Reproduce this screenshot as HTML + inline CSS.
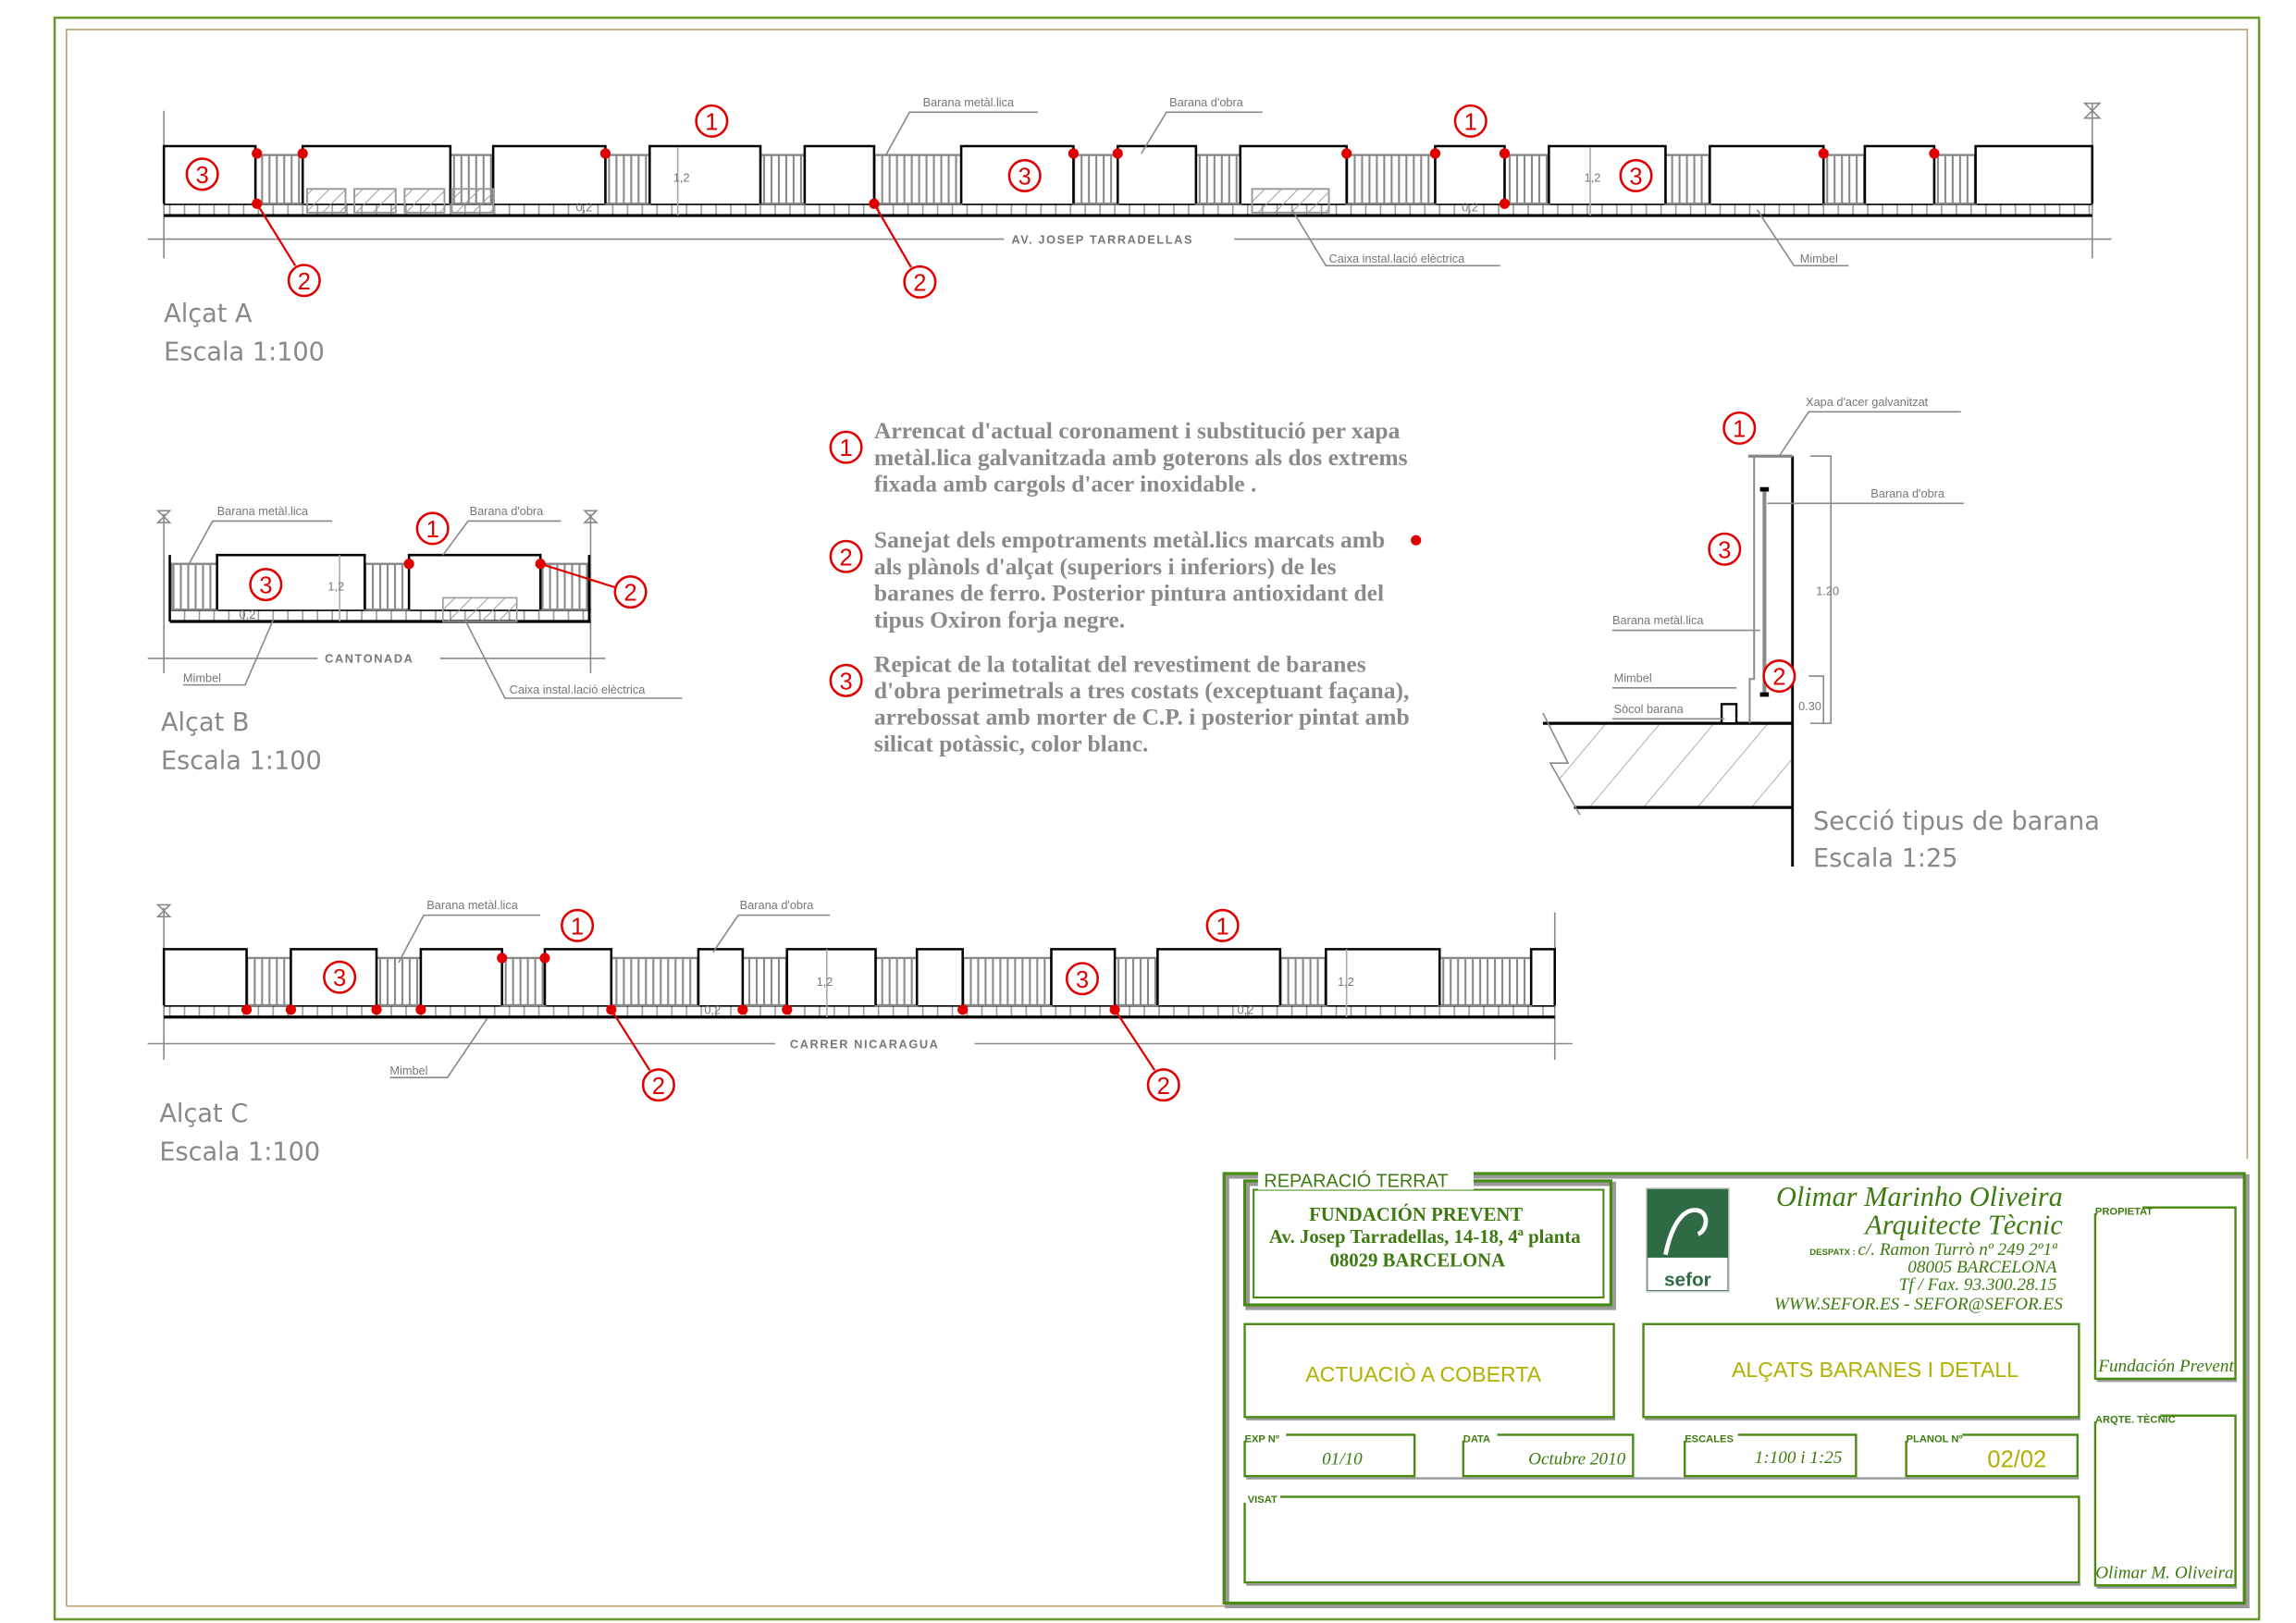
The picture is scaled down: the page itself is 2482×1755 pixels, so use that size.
<!DOCTYPE html>
<html><head><meta charset="utf-8"><style>
html,body{margin:0;padding:0;background:#fff}
svg{display:block}
.lb{font-family:"Liberation Sans",sans-serif;font-size:8px;fill:#777}
.cap{font-family:"Liberation Sans",sans-serif;font-size:8px;fill:#777;font-weight:bold;letter-spacing:1px}
.ti{font-family:"DejaVu Sans","Liberation Sans",sans-serif;font-size:17px;fill:#888}
.nt{font-family:"Liberation Serif",serif;font-size:16px;font-weight:bold;fill:#8a8a8a}
.num{font-family:"Liberation Sans",sans-serif;font-size:16px;fill:#e00000;text-anchor:middle}
.gs{font-family:"Liberation Serif",serif;font-weight:bold;fill:#3d7a10;font-size:13px;text-anchor:middle}
.gi{font-family:"Liberation Serif",serif;font-style:italic;fill:#3d7a10;text-anchor:end}
.sl{font-family:"Liberation Sans",sans-serif;font-size:7px;fill:#3d7a10;font-weight:bold}
.ol{font-family:"Liberation Sans",sans-serif;fill:#b0b000;text-anchor:middle}
.it{font-family:"Liberation Serif",serif;font-style:italic;fill:#3d7a10;font-size:12px;text-anchor:middle}
</style></head><body>
<svg width="2482" height="1755" viewBox="0 0 1555 1099.5" preserveAspectRatio="none" xmlns="http://www.w3.org/2000/svg">
<defs>
<pattern id="rl" patternUnits="userSpaceOnUse" width="5" height="10"><rect width="5" height="10" fill="#fff"/><line x1="2.5" y1="0" x2="2.5" y2="10" stroke="#888" stroke-width="1.3"/></pattern>
<pattern id="tk" patternUnits="userSpaceOnUse" width="10" height="10"><line x1="5" y1="0" x2="5" y2="10" stroke="#999" stroke-width="1"/></pattern>
<pattern id="ht" patternUnits="userSpaceOnUse" width="8" height="8" patternTransform="rotate(45)"><line x1="0" y1="0" x2="0" y2="8" stroke="#999" stroke-width="1.2"/></pattern>
<pattern id="hs" patternUnits="userSpaceOnUse" width="28" height="28" patternTransform="rotate(40)"><line x1="0" y1="0" x2="0" y2="28" stroke="#999" stroke-width="1"/></pattern>
<g id="c1"><circle r="10.5" fill="#fff" stroke="#e00000" stroke-width="1.6"/><text y="6" class="num">1</text></g>
<g id="c2"><circle r="10.5" fill="#fff" stroke="#e00000" stroke-width="1.6"/><text y="6" class="num">2</text></g>
<g id="c3"><circle r="10.5" fill="#fff" stroke="#e00000" stroke-width="1.6"/><text y="6" class="num">3</text></g>
</defs>

<rect x="37" y="12" width="1493" height="1085" fill="none" stroke="#6a9a2a" stroke-width="1.6"/>
<polyline points="45,1088 45,20 1522,20 1522,785" fill="none" stroke="#b8a070" stroke-width="1"/>
<line x1="45" y1="1088" x2="830" y2="1088" stroke="#b8a070" stroke-width="1"/>

<!-- ===== ALCAT A ===== -->
<g>
<line x1="100" y1="162" x2="680" y2="162" stroke="#888"/><line x1="836" y1="162" x2="1430" y2="162" stroke="#888"/>
<line x1="111" y1="75" x2="111" y2="175" stroke="#888"/><line x1="1417" y1="70" x2="1417" y2="175" stroke="#888"/>
<path d="M1412,70 L1422,70 L1412,80 L1422,80 Z" fill="none" stroke="#888"/>
<rect x="111" y="138" width="1306" height="8" fill="url(#tk)"/>
<line x1="111" y1="138" x2="1417" y2="138" stroke="#000" stroke-width="2"/>
<line x1="111" y1="146" x2="1417" y2="146" stroke="#000" stroke-width="2"/>
<g fill="url(#rl)" stroke="#888" stroke-width="1.5">
<rect x="173" y="105" width="32" height="33"/><rect x="305" y="105" width="29" height="33"/><rect x="410" y="105" width="30" height="33"/><rect x="515" y="105" width="30" height="33"/><rect x="592" y="105" width="59" height="33"/><rect x="727" y="105" width="30" height="33"/><rect x="810" y="105" width="30" height="33"/><rect x="912" y="105" width="60" height="33"/><rect x="1019" y="105" width="30" height="33"/><rect x="1128" y="105" width="30" height="33"/><rect x="1235" y="105" width="28" height="33"/><rect x="1310" y="105" width="28" height="33"/>
</g>
<g fill="#fff" stroke="#000" stroke-width="1.6">
<path d="M111,138V99H173V138"/><path d="M205,138V99H305V138"/><path d="M334,138V99H410V138"/><path d="M440,138V99H515V138"/><path d="M545,138V99H592V138"/><path d="M651,138V99H727V138"/><path d="M757,138V99H810V138"/><path d="M840,138V99H912V138"/><path d="M972,138V99H1019V138"/><path d="M1049,138V99H1128V138"/><path d="M1158,138V99H1235V138"/><path d="M1263,138V99H1310V138"/><path d="M1338,138V99H1417V138"/>
</g>
<g fill="url(#ht)" stroke="#999" stroke-width="1.2">
<rect x="208" y="128" width="26" height="16"/><rect x="240" y="128" width="28" height="16"/><rect x="274" y="128" width="27" height="16"/><rect x="306" y="128" width="28" height="16"/><rect x="848" y="128" width="52" height="16"/>
</g>
<line x1="459" y1="100" x2="459" y2="146" stroke="#aaa"/><text x="456" y="123" class="lb" font-size="6">1,2</text>
<line x1="1077" y1="100" x2="1077" y2="146" stroke="#aaa"/><text x="1073" y="123" class="lb" font-size="6">1,2</text>
<text x="390" y="143" class="lb" font-size="6">0,2</text><text x="990" y="143" class="lb" font-size="6">0,2</text>
<g fill="#e00000"><circle cx="174" cy="104" r="3.5"/><circle cx="205" cy="104" r="3.5"/><circle cx="174" cy="138" r="3.5"/><circle cx="410" cy="104" r="3.5"/><circle cx="592" cy="138" r="3.5"/><circle cx="727" cy="104" r="3.5"/><circle cx="757" cy="104" r="3.5"/><circle cx="912" cy="104" r="3.5"/><circle cx="972" cy="104" r="3.5"/><circle cx="1019" cy="104" r="3.5"/><circle cx="1019" cy="138" r="3.5"/><circle cx="1235" cy="104" r="3.5"/><circle cx="1310" cy="104" r="3.5"/></g>
<line x1="174" y1="138" x2="200" y2="180" stroke="#e00000" stroke-width="1.4"/><line x1="592" y1="138" x2="617" y2="181" stroke="#e00000" stroke-width="1.4"/>
<use href="#c1" x="482" y="82"/><use href="#c1" x="996" y="82"/><use href="#c3" x="137" y="118"/><use href="#c3" x="694" y="119"/><use href="#c3" x="1108" y="119"/><use href="#c2" x="206" y="190"/><use href="#c2" x="623" y="191"/>
<g stroke="#888" fill="none"><polyline points="600,105 616,76 703,76"/><polyline points="773,104 790,76 855,76"/><polyline points="875,142 898,180 1016,180"/><polyline points="1190,142 1215,180 1252,180"/></g>
<text x="625" y="72" class="lb">Barana metàl.lica</text><text x="792" y="72" class="lb">Barana d'obra</text>
<text x="900" y="178" class="lb">Caixa instal.lació elèctrica</text><text x="1219" y="178" class="lb">Mimbel</text>
<text x="685" y="165" class="cap">AV. JOSEP TARRADELLAS</text>
<text x="111" y="218" class="ti">Alçat A</text><text x="111" y="244" class="ti">Escala 1:100</text>
</g>

<!-- ===== ALCAT B ===== -->
<g>
<line x1="100" y1="446" x2="215" y2="446" stroke="#888"/><line x1="298" y1="446" x2="410" y2="446" stroke="#888"/>
<line x1="111" y1="348" x2="111" y2="456" stroke="#888"/><line x1="400" y1="348" x2="400" y2="456" stroke="#888"/>
<path d="M107,346 L115,346 L107,354 L115,354 Z M396,346 L404,346 L396,354 L404,354 Z" fill="none" stroke="#888"/>
<rect x="115" y="413" width="285" height="8" fill="url(#tk)"/>
<line x1="115" y1="413" x2="400" y2="413" stroke="#000" stroke-width="2"/><line x1="115" y1="421" x2="400" y2="421" stroke="#000" stroke-width="2"/>
<g fill="url(#rl)" stroke="#888" stroke-width="1.5"><rect x="116" y="382" width="31" height="31"/><rect x="247" y="382" width="30" height="31"/><rect x="366" y="382" width="32" height="31"/></g>
<g fill="#fff" stroke="#000" stroke-width="1.6"><path d="M147,413V376H247V413"/><path d="M277,413V376H366V413"/><line x1="115" y1="376" x2="115" y2="421"/><line x1="399" y1="376" x2="399" y2="421"/></g>
<rect x="300" y="405" width="50" height="16" fill="url(#ht)" stroke="#999"/>
<line x1="230" y1="376" x2="230" y2="421" stroke="#aaa"/><text x="222" y="400" class="lb" font-size="6">1,2</text><text x="162" y="419" class="lb" font-size="6">0,2</text>
<circle cx="277" cy="382" r="3.5" fill="#e00000"/><circle cx="366" cy="382" r="3.5" fill="#e00000"/>
<line x1="366" y1="382" x2="417" y2="398" stroke="#e00000" stroke-width="1.4"/>
<use href="#c1" x="293" y="358"/><use href="#c3" x="180" y="396"/><use href="#c2" x="427" y="401"/>
<g stroke="#888" fill="none"><polyline points="128,382 144,353 225,353"/><polyline points="300,376 317,353 380,353"/><polyline points="185,420 166,464 124,464"/><polyline points="315,420 342,473 462,473"/></g>
<text x="147" y="349" class="lb">Barana metàl.lica</text><text x="318" y="349" class="lb">Barana d'obra</text>
<text x="124" y="462" class="lb">Mimbel</text><text x="345" y="470" class="lb">Caixa instal.lació elèctrica</text>
<text x="220" y="449" class="cap">CANTONADA</text>
<text x="109" y="495" class="ti">Alçat B</text><text x="109" y="521" class="ti">Escala 1:100</text>
</g>

<!-- ===== NOTES ===== -->
<use href="#c1" x="573" y="303"/><use href="#c2" x="573" y="377"/><use href="#c3" x="573" y="461"/>
<g class="nt">
<text x="592" y="297">Arrencat d'actual coronament i substitució per xapa</text>
<text x="592" y="315">metàl.lica galvanitzada amb goterons als dos extrems</text>
<text x="592" y="333">fixada  amb cargols d'acer inoxidable .</text>
<text x="592" y="371">Sanejat dels empotraments metàl.lics marcats amb</text>
<text x="592" y="389">als plànols d'alçat (superiors i inferiors) de les</text>
<text x="592" y="407">baranes de ferro. Posterior pintura antioxidant del</text>
<text x="592" y="425">tipus Oxiron forja negre.</text>
<text x="592" y="455">Repicat de la totalitat del revestiment de baranes</text>
<text x="592" y="473">d'obra perimetrals a tres costats (exceptuant façana),</text>
<text x="592" y="491">arrebossat amb morter de C.P. i posterior pintat amb</text>
<text x="592" y="509">silicat potàssic, color blanc.</text>
</g>
<circle cx="959" cy="366" r="3.5" fill="#e00000"/>

<!-- ===== SECCIO ===== -->
<g>
<rect x="1050" y="490" width="164" height="57" fill="url(#hs)"/>
<path d="M1045,488 L1062,517 L1050,517 L1066,547 L1045,547 Z" fill="#fff"/>
<line x1="1045" y1="490" x2="1214" y2="490" stroke="#000" stroke-width="2"/>
<line x1="1066" y1="547" x2="1214" y2="547" stroke="#000" stroke-width="2"/>
<polyline points="1045,483 1062,517 1050,517 1070,552" fill="none" stroke="#888"/>
<line x1="1214" y1="309" x2="1214" y2="587" stroke="#000" stroke-width="1.8"/>
<polyline points="1184,309 1214,309" stroke="#888" stroke-width="2"/>
<polyline points="1188,309 1188,460 1185,460 1185,490" fill="none" stroke="#888" stroke-width="1.2"/>
<rect x="1166" y="477" width="10" height="13" fill="#fff" stroke="#000" stroke-width="1.5"/>
<line x1="1195" y1="332" x2="1195" y2="470" stroke="#888" stroke-width="2.5"/>
<rect x="1192" y="330" width="6" height="3" fill="#000"/><rect x="1192" y="469" width="6" height="3" fill="#000"/>
<polyline points="1226,309 1240,309 1240,490 1226,490" fill="none" stroke="#888"/>
<polyline points="1225,458 1235,458 1235,490" fill="none" stroke="#888"/>
<text x="1230" y="403" class="lb" font-size="7">1.20</text><text x="1218" y="481" class="lb" font-size="6">0.30</text>
<g stroke="#888" fill="none"><polyline points="1205,309 1225,279 1328,279"/><line x1="1197" y1="341" x2="1330" y2="341"/><line x1="1092" y1="427" x2="1192" y2="427"/><line x1="1092" y1="466" x2="1176" y2="466"/><line x1="1092" y1="487" x2="1168" y2="487"/></g>
<text x="1223" y="275" class="lb">Xapa d'acer galvanitzat</text><text x="1267" y="337" class="lb">Barana d'obra</text>
<text x="1092" y="423" class="lb">Barana metàl.lica</text><text x="1093" y="462" class="lb">Mimbel</text><text x="1093" y="483" class="lb">Sòcol barana</text>
<use href="#c1" x="1178" y="290"/><use href="#c3" x="1168" y="372"/><use href="#c2" x="1205" y="458"/>
<text x="1228" y="562" class="ti">Secció tipus de barana</text><text x="1228" y="587" class="ti">Escala 1:25</text>
</g>

<!-- ===== ALCAT C ===== -->
<g>
<line x1="100" y1="707" x2="525" y2="707" stroke="#888"/><line x1="660" y1="707" x2="1065" y2="707" stroke="#888"/>
<line x1="111" y1="615" x2="111" y2="718" stroke="#888"/><line x1="1053" y1="618" x2="1053" y2="718" stroke="#888"/>
<path d="M107,613 L115,613 L107,621 L115,621 Z" fill="none" stroke="#888"/>
<rect x="111" y="681" width="942" height="8" fill="url(#tk)"/>
<line x1="111" y1="681" x2="1053" y2="681" stroke="#000" stroke-width="2"/><line x1="111" y1="689" x2="1053" y2="689" stroke="#000" stroke-width="2"/>
<g fill="url(#rl)" stroke="#888" stroke-width="1.5">
<rect x="167" y="649" width="30" height="32"/><rect x="255" y="649" width="30" height="32"/><rect x="340" y="649" width="29" height="32"/><rect x="414" y="649" width="59" height="32"/><rect x="503" y="649" width="30" height="32"/><rect x="593" y="649" width="28" height="32"/><rect x="652" y="649" width="60" height="32"/><rect x="755" y="649" width="29" height="32"/><rect x="867" y="649" width="31" height="32"/><rect x="975" y="649" width="62" height="32"/>
</g>
<g fill="#fff" stroke="#000" stroke-width="1.6">
<path d="M111,681V643H167V681"/><path d="M197,681V643H255V681"/><path d="M285,681V643H340V681"/><path d="M369,681V643H414V681"/><path d="M473,681V643H503V681"/><path d="M533,681V643H593V681"/><path d="M621,681V643H652V681"/><path d="M712,681V643H755V681"/><path d="M784,681V643H867V681"/><path d="M898,681V643H975V681"/><path d="M1037,681V643H1053V681"/>
</g>
<line x1="560" y1="643" x2="560" y2="689" stroke="#aaa"/><text x="553" y="668" class="lb" font-size="6">1,2</text>
<line x1="912" y1="643" x2="912" y2="689" stroke="#aaa"/><text x="906" y="668" class="lb" font-size="6">1,2</text>
<text x="477" y="687" class="lb" font-size="6">0,2</text><text x="838" y="687" class="lb" font-size="6">0,2</text>
<g fill="#e00000"><circle cx="167" cy="684" r="3.5"/><circle cx="197" cy="684" r="3.5"/><circle cx="255" cy="684" r="3.5"/><circle cx="285" cy="684" r="3.5"/><circle cx="414" cy="684" r="3.5"/><circle cx="503" cy="684" r="3.5"/><circle cx="533" cy="684" r="3.5"/><circle cx="652" cy="684" r="3.5"/><circle cx="755" cy="684" r="3.5"/><circle cx="340" cy="649" r="3.5"/><circle cx="369" cy="649" r="3.5"/></g>
<line x1="414" y1="684" x2="440" y2="725" stroke="#e00000" stroke-width="1.4"/><line x1="755" y1="684" x2="782" y2="725" stroke="#e00000" stroke-width="1.4"/>
<use href="#c1" x="391" y="627"/><use href="#c1" x="828" y="627"/><use href="#c3" x="230" y="662"/><use href="#c3" x="733" y="663"/><use href="#c2" x="446" y="735"/><use href="#c2" x="788" y="735"/>
<g stroke="#888" fill="none"><polyline points="270,652 287,620 366,620"/><polyline points="483,645 500,620 562,620"/><polyline points="330,690 303,730 264,730"/></g>
<text x="289" y="616" class="lb">Barana metàl.lica</text><text x="501" y="616" class="lb">Barana d'obra</text><text x="264" y="728" class="lb">Mimbel</text>
<text x="535" y="710" class="cap">CARRER NICARAGUA</text>
<text x="108" y="760" class="ti">Alçat C</text><text x="108" y="786" class="ti">Escala 1:100</text>
</g>

<!-- ===== TITLE BLOCK ===== -->
<g fill="none">
<rect x="831" y="797" width="691" height="291" stroke="#999" stroke-width="3"/>
<rect x="829" y="795" width="691" height="291" stroke="#4a8a14" stroke-width="2"/>
<rect x="845" y="802" width="248" height="84" stroke="#999" stroke-width="3"/>
<rect x="843" y="800" width="248" height="84" stroke="#4a8a14" stroke-width="2"/>
<rect x="849" y="806" width="237" height="73" stroke="#4a8a14" stroke-width="1.3"/>
<g stroke="#4a8a14" stroke-width="1.5">
<rect x="843" y="897" width="250" height="63"/><rect x="1113" y="897" width="295" height="63"/>
<rect x="843" y="972" width="115" height="28"/><rect x="991" y="972" width="115" height="28"/><rect x="1141" y="972" width="116" height="28"/><rect x="1291" y="972" width="116" height="28"/>
<rect x="843" y="1014" width="565" height="58"/>
<rect x="1419" y="818" width="95" height="116"/><rect x="1419" y="959" width="95" height="115"/>
</g>
<g stroke="#999" stroke-width="1.5"><line x1="844" y1="961.5" x2="1094" y2="961.5"/><line x1="1114" y1="961.5" x2="1409" y2="961.5"/><line x1="844" y1="1001.5" x2="1408" y2="1001.5"/><line x1="844" y1="1073.5" x2="1409" y2="1073.5"/><line x1="1420" y1="935.5" x2="1515" y2="935.5"/><line x1="1420" y1="1075.5" x2="1515" y2="1075.5"/></g>
</g>
<rect x="852" y="792" width="146" height="14" fill="#fff"/>
<text x="856" y="804" font-family="Liberation Sans,sans-serif" font-size="12.5" fill="#3d7a10">REPARACIÓ TERRAT</text>
<text x="959" y="827" class="gs">FUNDACIÓN PREVENT</text>
<text x="965" y="842" class="gs">Av. Josep Tarradellas, 14-18, 4ª planta</text>
<text x="960" y="858" class="gs">08029  BARCELONA</text>
<rect x="1115" y="805" width="56" height="70" fill="#2e6b45" stroke="#ccc"/>
<rect x="1116" y="852" width="54" height="22" fill="#fff"/>
<path d="M1128,850 C1132,830 1140,818 1150,820 C1158,822 1156,834 1150,836" fill="none" stroke="#fff" stroke-width="3"/>
<text x="1143" y="871" font-family="Liberation Sans,sans-serif" font-weight="bold" font-size="13" fill="#2e6b45" text-anchor="middle">sefor</text>
<text x="1397" y="817" class="gi" font-size="19">Olimar Marinho Oliveira</text>
<text x="1397" y="836" class="gi" font-size="19">Arquitecte Tècnic</text>
<text x="1393" y="850" class="gi" font-size="12"><tspan font-size="6" font-style="normal" font-weight="bold" font-family="Liberation Sans">DESPATX : </tspan>c/. Ramon Turrò nº 249 2º1ª</text>
<text x="1393" y="862" class="gi" font-size="12">08005 BARCELONA</text>
<text x="1393" y="874" class="gi" font-size="12">Tf / Fax.  93.300.28.15</text>
<text x="1397" y="887" class="gi" font-size="12">WWW.SEFOR.ES  -  SEFOR@SEFOR.ES</text>
<text x="964" y="936" class="ol" font-size="14.5">ACTUACIÒ A COBERTA</text>
<text x="1270" y="933" class="ol" font-size="14.5">ALÇATS BARANES I DETALL</text>
<g fill="#fff"><rect x="841" y="968" width="30" height="8"/><rect x="989" y="968" width="25" height="8"/><rect x="1139" y="968" width="38" height="8"/><rect x="1289" y="968" width="40" height="8"/><rect x="841" y="1010" width="26" height="8"/><rect x="1417" y="814" width="34" height="8"/><rect x="1417" y="955" width="46" height="8"/></g>
<text x="843" y="977" class="sl">EXP Nº</text><text x="991" y="977" class="sl">DATA</text><text x="1141" y="977" class="sl">ESCALES</text><text x="1291" y="977" class="sl">PLANOL Nº</text><text x="845" y="1018" class="sl">VISAT</text>
<text x="1419" y="823" class="sl">PROPIETAT</text><text x="1419" y="964" class="sl">ARQTE. TÈCNIC</text>
<text x="909" y="992" class="it">01/10</text><text x="1068" y="992" class="it">Octubre 2010</text><text x="1218" y="991" class="it">1:100 i 1:25</text>
<text x="1366" y="994" class="ol" font-size="16">02/02</text>
<text x="1467" y="929" class="it" font-size="11">Fundación Prevent</text>
<text x="1466" y="1069" class="it" font-size="11">Olimar M. Oliveira</text>
</svg>
</body></html>
